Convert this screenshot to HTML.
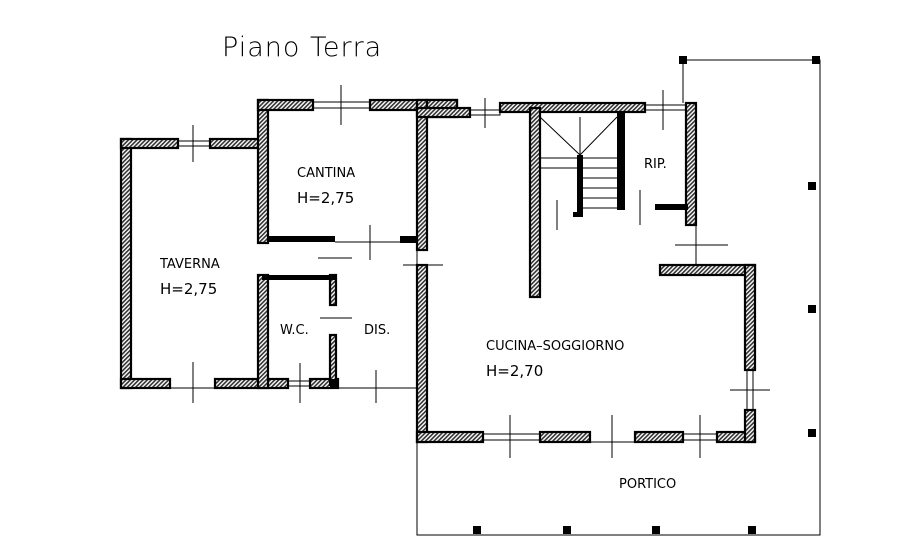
<!DOCTYPE html>
<html><head><meta charset="utf-8"><style>
html,body{margin:0;padding:0;background:#fff;width:922px;height:546px;overflow:hidden}
svg{display:block}
text{font-family:"DejaVu Sans","Liberation Sans",sans-serif;fill:#000}
</style></head><body>
<svg width="922" height="546" viewBox="0 0 922 546" xmlns="http://www.w3.org/2000/svg">
<defs>
<pattern id="h" width="3" height="3" patternUnits="userSpaceOnUse" patternTransform="rotate(45)">
<rect width="3" height="3" fill="#fff"/><rect width="1.6" height="3" fill="#333"/>
</pattern>
</defs>
<text x="222" y="56" font-size="27" font-weight="300" letter-spacing="1">Piano  Terra</text>

<g fill="none" stroke="#000" stroke-width="1">
<polyline points="417,442 417,535 820,535 820,60 683,60 683,103"/>
</g>
<g fill="#000">
<rect x="679" y="56" width="8" height="8"/><rect x="812" y="56" width="8" height="8"/>
<rect x="808" y="182" width="8" height="8"/><rect x="808" y="305" width="8" height="8"/>
<rect x="808" y="429" width="8" height="8"/>
<rect x="473" y="526" width="8" height="8"/><rect x="563" y="526" width="8" height="8"/>
<rect x="652" y="526" width="8" height="8"/><rect x="748" y="526" width="8" height="8"/>
</g>

<g fill="url(#h)" stroke="#000" stroke-width="2.2">
<rect x="121" y="139" width="10" height="249"/>
<rect x="121" y="139" width="57" height="9"/>
<rect x="210" y="139" width="52" height="9"/>
<rect x="121" y="379" width="49" height="9"/>
<rect x="215" y="379" width="73" height="9"/>
<rect x="310" y="379" width="28" height="9"/>
<rect x="258" y="100" width="10" height="143"/>
<rect x="258" y="100" width="55" height="10"/>
<rect x="370" y="100" width="87" height="10"/>
<rect x="417" y="100" width="10" height="150"/>
<rect x="427" y="100" width="30" height="17"/>
<rect x="258" y="275" width="10" height="113"/>
<rect x="417" y="108" width="53" height="9"/>
<rect x="500" y="103" width="145" height="9"/>
<rect x="530" y="108" width="10" height="189"/>
<rect x="686" y="103" width="10" height="122"/>
<rect x="417" y="265" width="10" height="177"/>
<rect x="417" y="432" width="66" height="10"/>
<rect x="540" y="432" width="50" height="10"/>
<rect x="635" y="432" width="48" height="10"/>
<rect x="717" y="432" width="38" height="10"/>
<rect x="660" y="265" width="95" height="10"/>
<rect x="745" y="265" width="10" height="105"/>
<rect x="745" y="410" width="10" height="32"/>
<rect x="330" y="275" width="6" height="30"/>
<rect x="330" y="335" width="6" height="50"/>
</g>
<g fill="#000">
<rect x="268" y="236" width="67" height="6"/>
<rect x="400" y="236" width="17" height="7"/>
<rect x="262" y="275" width="75" height="5"/>
<rect x="330" y="379" width="8" height="9"/>
<rect x="617" y="112" width="8" height="98"/>
<rect x="655" y="204" width="33" height="6"/>
<rect x="577" y="155" width="6" height="62"/>
<rect x="573" y="212" width="10" height="5"/>
</g>
<g fill="none" stroke="#000" stroke-width="1">
<rect x="178" y="141" width="32" height="5"/>
<rect x="313" y="102" width="57" height="6"/>
<rect x="470" y="110" width="30" height="5"/>
<rect x="645" y="105" width="41" height="5"/>
<rect x="483" y="434" width="57" height="6"/>
<rect x="683" y="434" width="34" height="6"/>
<rect x="747" y="370" width="6" height="40"/>
<rect x="288" y="381" width="22" height="5"/>
<line x1="170" y1="388" x2="215" y2="388"/>
<line x1="336" y1="388" x2="417" y2="388"/>
<line x1="335" y1="242" x2="400" y2="242"/>
<line x1="590" y1="442" x2="635" y2="442"/>
<line x1="696" y1="225" x2="696" y2="265"/>
<line x1="417" y1="250" x2="417" y2="265"/>
<line x1="193" y1="125" x2="193" y2="162"/>
<line x1="341" y1="85" x2="341" y2="125"/>
<line x1="485" y1="98" x2="485" y2="128"/>
<line x1="663" y1="90" x2="663" y2="130"/>
<line x1="370" y1="225" x2="370" y2="260"/>
<line x1="403" y1="265" x2="443" y2="265"/>
<line x1="318" y1="258" x2="352" y2="258"/>
<line x1="320" y1="318" x2="352" y2="318"/>
<line x1="193" y1="362" x2="193" y2="403"/>
<line x1="300" y1="363" x2="300" y2="403"/>
<line x1="376" y1="370" x2="376" y2="403"/>
<line x1="510" y1="415" x2="510" y2="458"/>
<line x1="612" y1="415" x2="612" y2="458"/>
<line x1="700" y1="415" x2="700" y2="458"/>
<line x1="675" y1="245" x2="728" y2="245"/>
<line x1="730" y1="390" x2="770" y2="390"/>
<line x1="557" y1="200" x2="557" y2="230"/>
<line x1="640" y1="190" x2="640" y2="225"/>
<line x1="540" y1="117" x2="580" y2="155"/>
<line x1="617" y1="117" x2="580" y2="155"/>
<line x1="580" y1="117" x2="580" y2="155"/>
<line x1="540" y1="158" x2="617" y2="158"/>
<line x1="540" y1="168" x2="617" y2="168"/>
<line x1="583" y1="178" x2="617" y2="178"/>
<line x1="583" y1="188" x2="617" y2="188"/>
<line x1="583" y1="198" x2="617" y2="198"/>
<line x1="583" y1="208" x2="617" y2="208"/>
</g>

<g font-size="13">
<text x="297" y="177">CANTINA</text>
<text x="297" y="203" font-size="15">H=2,75</text>
<text x="160" y="268">TAVERNA</text>
<text x="160" y="294" font-size="15">H=2,75</text>
<text x="280" y="334">W.C.</text>
<text x="364" y="334">DIS.</text>
<text x="644" y="168">RIP.</text>
<text x="486" y="350">CUCINA–SOGGIORNO</text>
<text x="486" y="376" font-size="15">H=2,70</text>
<text x="619" y="488">PORTICO</text>
</g>
</svg>
</body></html>
